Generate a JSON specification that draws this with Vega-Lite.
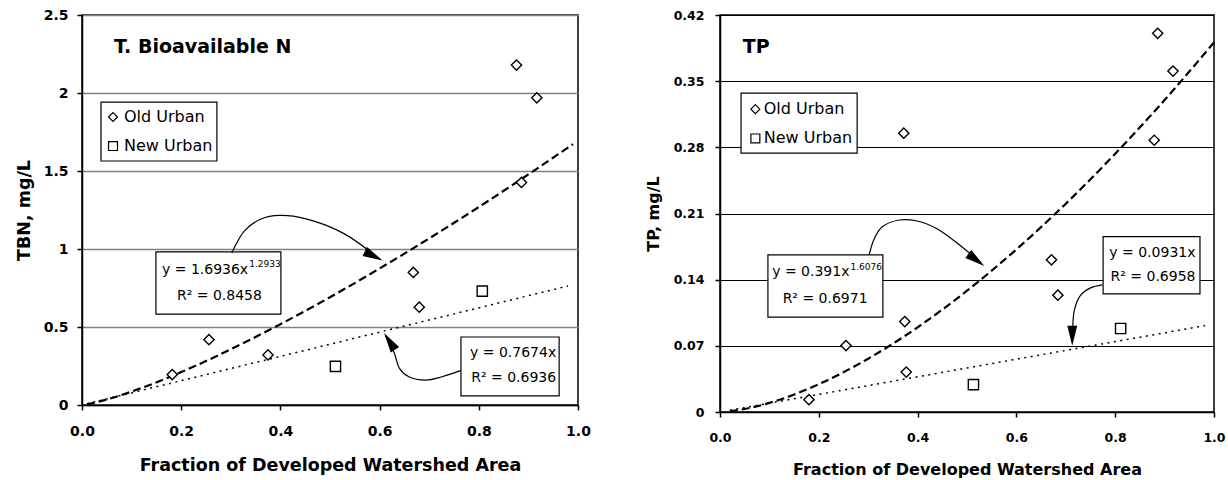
{
  "$schema": "https://vega.github.io/schema/vega-lite/v6.json",
  "padding": {"left": 14, "top": 7, "right": 0, "bottom": 0},
  "spacing": 52,
  "background": "white",
  "config": {
    "font": "DejaVu Sans",
    "view": {"stroke": "black", "strokeWidth": 1.5},
    "axis": {
      "domainColor": "black", "domainWidth": 1.5,
      "tickColor": "black", "tickWidth": 1.5, "tickSize": 5,
      "labelColor": "black", "titleColor": "black",
      "labelFont": "DejaVu Sans", "titleFont": "DejaVu Sans",
      "labelFontWeight": "bold", "titleFontWeight": "bold",
      "labelFlush": false, "labelOverlap": false
    }
  },
  "datasets": {
    "tbn_pts": [
      {"type": "Old Urban", "x": 0.182, "y": 0.195},
      {"type": "Old Urban", "x": 0.256, "y": 0.419},
      {"type": "Old Urban", "x": 0.375, "y": 0.321},
      {"type": "Old Urban", "x": 0.668, "y": 0.850},
      {"type": "Old Urban", "x": 0.680, "y": 0.627},
      {"type": "Old Urban", "x": 0.876, "y": 2.179},
      {"type": "Old Urban", "x": 0.886, "y": 1.427},
      {"type": "Old Urban", "x": 0.917, "y": 1.969},
      {"type": "New Urban", "x": 0.511, "y": 0.248},
      {"type": "New Urban", "x": 0.807, "y": 0.730}
    ],
    "tbn_legend": [
      {"type": "Old Urban", "x": 0.0625, "lx": 0.0847, "y": 1.846},
      {"type": "New Urban", "x": 0.0625, "lx": 0.0847, "y": 1.660}
    ],
    "tbn_legbox": [
      {"x": 0.0383, "x2": 0.272, "y": 1.564, "y2": 1.942}
    ],
    "tbn_pow": [
      {"x": 0.01, "y": 0.004}, {"x": 0.05, "y": 0.035}, {"x": 0.1, "y": 0.086},
      {"x": 0.2, "y": 0.211}, {"x": 0.3, "y": 0.357}, {"x": 0.4, "y": 0.518},
      {"x": 0.5, "y": 0.691}, {"x": 0.6, "y": 0.875}, {"x": 0.7, "y": 1.068},
      {"x": 0.8, "y": 1.269}, {"x": 0.9, "y": 1.478}, {"x": 0.99, "y": 1.672}
    ],
    "tbn_lin": [
      {"x": 0.01, "y": 0.008}, {"x": 0.98, "y": 0.763}
    ],
    "tbn_boxes": [
      {"x": 0.149, "x2": 0.401, "y": 0.583, "y2": 0.981},
      {"x": 0.764, "x2": 0.962, "y": 0.058, "y2": 0.436}
    ],
    "tbn_notes": [
      {"kind": "title", "x": 0.0645, "y": 2.298, "t": "T. Bioavailable N"},
      {"kind": "eqR", "x": 0.335, "y": 0.865, "t": "y = 1.6936x"},
      {"kind": "sup", "x": 0.337, "y": 0.904, "t": "1.2933"},
      {"kind": "eqC", "x": 0.277, "y": 0.699, "t": "R² = 0.8458"},
      {"kind": "eqR", "x": 0.956, "y": 0.333, "t": "y = 0.7674x"},
      {"kind": "eqR", "x": 0.956, "y": 0.173, "t": "R² = 0.6936"}
    ],
    "tbn_arrows": [
      {"arrow": "a1", "i": 1, "x": 0.302, "y": 0.974},
      {"arrow": "a1", "i": 2, "x": 0.328, "y": 1.118},
      {"arrow": "a1", "i": 3, "x": 0.361, "y": 1.192},
      {"arrow": "a1", "i": 4, "x": 0.398, "y": 1.215},
      {"arrow": "a1", "i": 5, "x": 0.452, "y": 1.193},
      {"arrow": "a1", "i": 6, "x": 0.529, "y": 1.097},
      {"arrow": "a1", "i": 7, "x": 0.600, "y": 0.935},
      {"arrow": "a2", "i": 1, "x": 0.763, "y": 0.220},
      {"arrow": "a2", "i": 2, "x": 0.726, "y": 0.181},
      {"arrow": "a2", "i": 3, "x": 0.693, "y": 0.160},
      {"arrow": "a2", "i": 4, "x": 0.659, "y": 0.181},
      {"arrow": "a2", "i": 5, "x": 0.640, "y": 0.235},
      {"arrow": "a2", "i": 6, "x": 0.630, "y": 0.330},
      {"arrow": "a2", "i": 7, "x": 0.612, "y": 0.445}
    ],
    "tbn_heads": [
      {"arrow": "a1", "x": 0.606, "y": 0.926},
      {"arrow": "a2", "x": 0.609, "y": 0.462}
    ],
    "tp_pts": [
      {"type": "Old Urban", "x": 0.180, "y": 0.013},
      {"type": "Old Urban", "x": 0.255, "y": 0.0703},
      {"type": "Old Urban", "x": 0.372, "y": 0.295},
      {"type": "Old Urban", "x": 0.374, "y": 0.0957},
      {"type": "Old Urban", "x": 0.377, "y": 0.0422},
      {"type": "Old Urban", "x": 0.671, "y": 0.161},
      {"type": "Old Urban", "x": 0.684, "y": 0.1236},
      {"type": "Old Urban", "x": 0.879, "y": 0.2875},
      {"type": "Old Urban", "x": 0.886, "y": 0.4006},
      {"type": "Old Urban", "x": 0.917, "y": 0.3607},
      {"type": "New Urban", "x": 0.513, "y": 0.029},
      {"type": "New Urban", "x": 0.811, "y": 0.0883}
    ],
    "tp_legend": [
      {"type": "Old Urban", "x": 0.0716, "lx": 0.0886, "y": 0.3204},
      {"type": "New Urban", "x": 0.0716, "lx": 0.0886, "y": 0.2894}
    ],
    "tp_legbox": [
      {"x": 0.0426, "x2": 0.2776, "y": 0.2739, "y2": 0.3373}
    ],
    "tp_pow": [
      {"x": 0.02, "y": 0.0007}, {"x": 0.05, "y": 0.0032}, {"x": 0.1, "y": 0.0096},
      {"x": 0.2, "y": 0.0294}, {"x": 0.3, "y": 0.0564}, {"x": 0.4, "y": 0.0896},
      {"x": 0.5, "y": 0.1283}, {"x": 0.6, "y": 0.172}, {"x": 0.7, "y": 0.2204},
      {"x": 0.8, "y": 0.2732}, {"x": 0.9, "y": 0.3301}, {"x": 1.0, "y": 0.391}
    ],
    "tp_lin": [
      {"x": 0.02, "y": 0.0019}, {"x": 0.982, "y": 0.0914}
    ],
    "tp_boxes": [
      {"x": 0.097, "x2": 0.3297, "y": 0.1003, "y2": 0.1662},
      {"x": 0.7755, "x2": 0.9716, "y": 0.125, "y2": 0.1856}
    ],
    "tp_notes": [
      {"kind": "title", "x": 0.046, "y": 0.3859, "t": "TP"},
      {"kind": "eqR", "x": 0.262, "y": 0.1479, "t": "y = 0.391x"},
      {"kind": "sup", "x": 0.264, "y": 0.1532, "t": "1.6076"},
      {"kind": "eqC", "x": 0.2128, "y": 0.1197, "t": "R² = 0.6971"},
      {"kind": "eqR", "x": 0.9625, "y": 0.1687, "t": "y = 0.0931x"},
      {"kind": "eqR", "x": 0.9625, "y": 0.1432, "t": "R² = 0.6958"}
    ],
    "tp_arrows": [
      {"arrow": "a1", "i": 1, "x": 0.302, "y": 0.1662},
      {"arrow": "a1", "i": 2, "x": 0.312, "y": 0.1831},
      {"arrow": "a1", "i": 3, "x": 0.328, "y": 0.1957},
      {"arrow": "a1", "i": 4, "x": 0.363, "y": 0.2031},
      {"arrow": "a1", "i": 5, "x": 0.399, "y": 0.2021},
      {"arrow": "a1", "i": 6, "x": 0.440, "y": 0.1937},
      {"arrow": "a1", "i": 7, "x": 0.490, "y": 0.1746},
      {"arrow": "a1", "i": 8, "x": 0.528, "y": 0.158},
      {"arrow": "a2", "i": 1, "x": 0.774, "y": 0.1345},
      {"arrow": "a2", "i": 2, "x": 0.750, "y": 0.1313},
      {"arrow": "a2", "i": 3, "x": 0.729, "y": 0.1229},
      {"arrow": "a2", "i": 4, "x": 0.717, "y": 0.1070},
      {"arrow": "a2", "i": 5, "x": 0.714, "y": 0.0880},
      {"arrow": "a2", "i": 6, "x": 0.713, "y": 0.0730}
    ],
    "tp_heads": [
      {"arrow": "a1", "x": 0.535, "y": 0.1545},
      {"arrow": "a2", "x": 0.713, "y": 0.0700}
    ]
  },
  "resolve": {"scale": {"shape": "independent", "x": "independent", "y": "independent"}},
  "hconcat": [
    {
      "width": 496,
      "height": 390,
      "encoding": {
        "x": {"field": "x", "type": "quantitative",
          "scale": {"domain": [0, 1], "nice": false},
          "axis": {"title": "Fraction of Developed Watershed Area", "values": [0, 0.2, 0.4, 0.6, 0.8, 1.0], "format": ".1f", "grid": false,
            "labelFontSize": 14, "titleFontSize": 17.5, "labelPadding": 14, "titlePadding": 18}},
        "y": {"field": "y", "type": "quantitative",
          "scale": {"domain": [0, 2.5], "nice": false},
          "axis": {"title": "TBN, mg/L", "values": [0, 0.5, 1, 1.5, 2, 2.5], "format": "~g", "grid": true,
            "gridColor": "#808080", "gridWidth": 1.5, "gridOpacity": 1,
            "labelFontSize": 14, "titleFontSize": 17.5, "labelPadding": 9, "titlePadding": 10}}
      },
      "layer": [
        {"data": {"name": "tbn_lin"}, "mark": {"type": "line", "color": "black", "strokeWidth": 1.5, "strokeDash": [2, 4.5]}, "encoding": {}},
        {"data": {"name": "tbn_pow"}, "mark": {"type": "line", "color": "black", "strokeWidth": 2.2, "strokeDash": [8, 4], "interpolate": "monotone"}, "encoding": {}},
        {"data": {"name": "tbn_boxes"}, "mark": {"type": "rect", "fill": "white", "stroke": "black", "strokeWidth": 1.2},
          "encoding": {"x2": {"field": "x2"}, "y2": {"field": "y2"}}},
        {"data": {"name": "tbn_legbox"}, "mark": {"type": "rect", "fill": "white", "stroke": "black", "strokeWidth": 1.2},
          "encoding": {"x2": {"field": "x2"}, "y2": {"field": "y2"}}},
        {"data": {"name": "tbn_arrows"}, "mark": {"type": "line", "color": "black", "strokeWidth": 1.2, "interpolate": "catmull-rom"},
          "encoding": {"detail": {"field": "arrow", "type": "nominal"}, "order": {"field": "i", "type": "quantitative"}}},
        {"data": {"name": "tbn_heads"}, "transform": [{"filter": "datum.arrow == 'a1'"}],
          "mark": {"type": "point", "shape": "M 0 0 L -2 -0.5 L -2 0.5 Z", "size": 400, "angle": 27, "filled": true, "color": "black", "opacity": 1, "strokeWidth": 0}},
        {"data": {"name": "tbn_heads"}, "transform": [{"filter": "datum.arrow == 'a2'"}],
          "mark": {"type": "point", "shape": "M 0 0 L -2 -0.5 L -2 0.5 Z", "size": 400, "angle": 237, "filled": true, "color": "black", "opacity": 1, "strokeWidth": 0}},
        {"data": {"name": "tbn_pts"},
          "mark": {"type": "point", "filled": false, "color": "black", "fill": "white", "stroke": "black", "strokeWidth": 1.4, "size": 105, "opacity": 1},
          "encoding": {"shape": {"field": "type", "type": "nominal",
            "scale": {"domain": ["Old Urban", "New Urban"], "range": ["diamond", "square"]}, "legend": null}}},
        {"data": {"name": "tbn_legend"},
          "mark": {"type": "point", "filled": false, "color": "black", "fill": "white", "stroke": "black", "strokeWidth": 1.2, "size": 80, "opacity": 1},
          "encoding": {"shape": {"field": "type", "type": "nominal", "legend": null}}},
        {"data": {"name": "tbn_legend"},
          "mark": {"type": "text", "align": "left", "baseline": "middle", "font": "DejaVu Sans", "fontSize": 16, "color": "black"},
          "encoding": {"x": {"field": "lx", "type": "quantitative"}, "text": {"field": "type"}}},
        {"data": {"name": "tbn_notes"}, "transform": [{"filter": "datum.kind == 'title'"}],
          "mark": {"type": "text", "align": "left", "baseline": "middle", "font": "DejaVu Sans", "fontWeight": "bold", "fontSize": 19, "color": "black"},
          "encoding": {"text": {"field": "t"}}},
        {"data": {"name": "tbn_notes"}, "transform": [{"filter": "datum.kind == 'eqR'"}],
          "mark": {"type": "text", "align": "right", "baseline": "middle", "font": "DejaVu Sans", "fontSize": 14, "color": "black"},
          "encoding": {"text": {"field": "t"}}},
        {"data": {"name": "tbn_notes"}, "transform": [{"filter": "datum.kind == 'eqC'"}],
          "mark": {"type": "text", "align": "center", "baseline": "middle", "font": "DejaVu Sans", "fontSize": 14, "color": "black"},
          "encoding": {"text": {"field": "t"}}},
        {"data": {"name": "tbn_notes"}, "transform": [{"filter": "datum.kind == 'sup'"}],
          "mark": {"type": "text", "align": "left", "baseline": "middle", "font": "DejaVu Sans", "fontSize": 9, "color": "black"},
          "encoding": {"text": {"field": "t"}}}
      ]
    },
    {
      "width": 494,
      "height": 397,
      "encoding": {
        "x": {"field": "x", "type": "quantitative",
          "scale": {"domain": [0, 1], "nice": false},
          "axis": {"title": "Fraction of Developed Watershed Area", "values": [0, 0.2, 0.4, 0.6, 0.8, 1.0], "format": ".1f", "grid": false,
            "labelFontSize": 12.5, "titleFontSize": 16, "labelPadding": 14, "titlePadding": 18}},
        "y": {"field": "y", "type": "quantitative",
          "scale": {"domain": [0, 0.42], "nice": false},
          "axis": {"title": "TP, mg/L", "values": [0, 0.07, 0.14, 0.21, 0.28, 0.35, 0.42], "format": "~g", "grid": true,
            "gridColor": "black", "gridWidth": 1, "gridOpacity": 1,
            "labelFontSize": 12.5, "titleFontSize": 16, "labelPadding": 11, "titlePadding": 12}}
      },
      "layer": [
        {"data": {"name": "tp_lin"}, "mark": {"type": "line", "color": "black", "strokeWidth": 1.5, "strokeDash": [2, 4.5]}, "encoding": {}},
        {"data": {"name": "tp_pow"}, "mark": {"type": "line", "color": "black", "strokeWidth": 2.2, "strokeDash": [8, 4], "interpolate": "monotone"}, "encoding": {}},
        {"data": {"name": "tp_boxes"}, "mark": {"type": "rect", "fill": "white", "stroke": "black", "strokeWidth": 1.2},
          "encoding": {"x2": {"field": "x2"}, "y2": {"field": "y2"}}},
        {"data": {"name": "tp_legbox"}, "mark": {"type": "rect", "fill": "white", "stroke": "black", "strokeWidth": 1.2},
          "encoding": {"x2": {"field": "x2"}, "y2": {"field": "y2"}}},
        {"data": {"name": "tp_arrows"}, "mark": {"type": "line", "color": "black", "strokeWidth": 1.2, "interpolate": "catmull-rom"},
          "encoding": {"detail": {"field": "arrow", "type": "nominal"}, "order": {"field": "i", "type": "quantitative"}}},
        {"data": {"name": "tp_heads"}, "transform": [{"filter": "datum.arrow == 'a1'"}],
          "mark": {"type": "point", "shape": "M 0 0 L -2 -0.5 L -2 0.5 Z", "size": 400, "angle": 37, "filled": true, "color": "black", "opacity": 1, "strokeWidth": 0}},
        {"data": {"name": "tp_heads"}, "transform": [{"filter": "datum.arrow == 'a2'"}],
          "mark": {"type": "point", "shape": "M 0 0 L -2 -0.5 L -2 0.5 Z", "size": 400, "angle": 90, "filled": true, "color": "black", "opacity": 1, "strokeWidth": 0}},
        {"data": {"name": "tp_pts"},
          "mark": {"type": "point", "filled": false, "color": "black", "fill": "white", "stroke": "black", "strokeWidth": 1.4, "size": 105, "opacity": 1},
          "encoding": {"shape": {"field": "type", "type": "nominal",
            "scale": {"domain": ["Old Urban", "New Urban"], "range": ["diamond", "square"]}, "legend": null}}},
        {"data": {"name": "tp_legend"},
          "mark": {"type": "point", "filled": false, "color": "black", "fill": "white", "stroke": "black", "strokeWidth": 1.2, "size": 80, "opacity": 1},
          "encoding": {"shape": {"field": "type", "type": "nominal", "legend": null}}},
        {"data": {"name": "tp_legend"},
          "mark": {"type": "text", "align": "left", "baseline": "middle", "font": "DejaVu Sans", "fontSize": 16, "color": "black"},
          "encoding": {"x": {"field": "lx", "type": "quantitative"}, "text": {"field": "type"}}},
        {"data": {"name": "tp_notes"}, "transform": [{"filter": "datum.kind == 'title'"}],
          "mark": {"type": "text", "align": "left", "baseline": "middle", "font": "DejaVu Sans", "fontWeight": "bold", "fontSize": 19, "color": "black"},
          "encoding": {"text": {"field": "t"}}},
        {"data": {"name": "tp_notes"}, "transform": [{"filter": "datum.kind == 'eqR'"}],
          "mark": {"type": "text", "align": "right", "baseline": "middle", "font": "DejaVu Sans", "fontSize": 14, "color": "black"},
          "encoding": {"text": {"field": "t"}}},
        {"data": {"name": "tp_notes"}, "transform": [{"filter": "datum.kind == 'eqC'"}],
          "mark": {"type": "text", "align": "center", "baseline": "middle", "font": "DejaVu Sans", "fontSize": 14, "color": "black"},
          "encoding": {"text": {"field": "t"}}},
        {"data": {"name": "tp_notes"}, "transform": [{"filter": "datum.kind == 'sup'"}],
          "mark": {"type": "text", "align": "left", "baseline": "middle", "font": "DejaVu Sans", "fontSize": 9, "color": "black"},
          "encoding": {"text": {"field": "t"}}}
      ]
    }
  ]
}
